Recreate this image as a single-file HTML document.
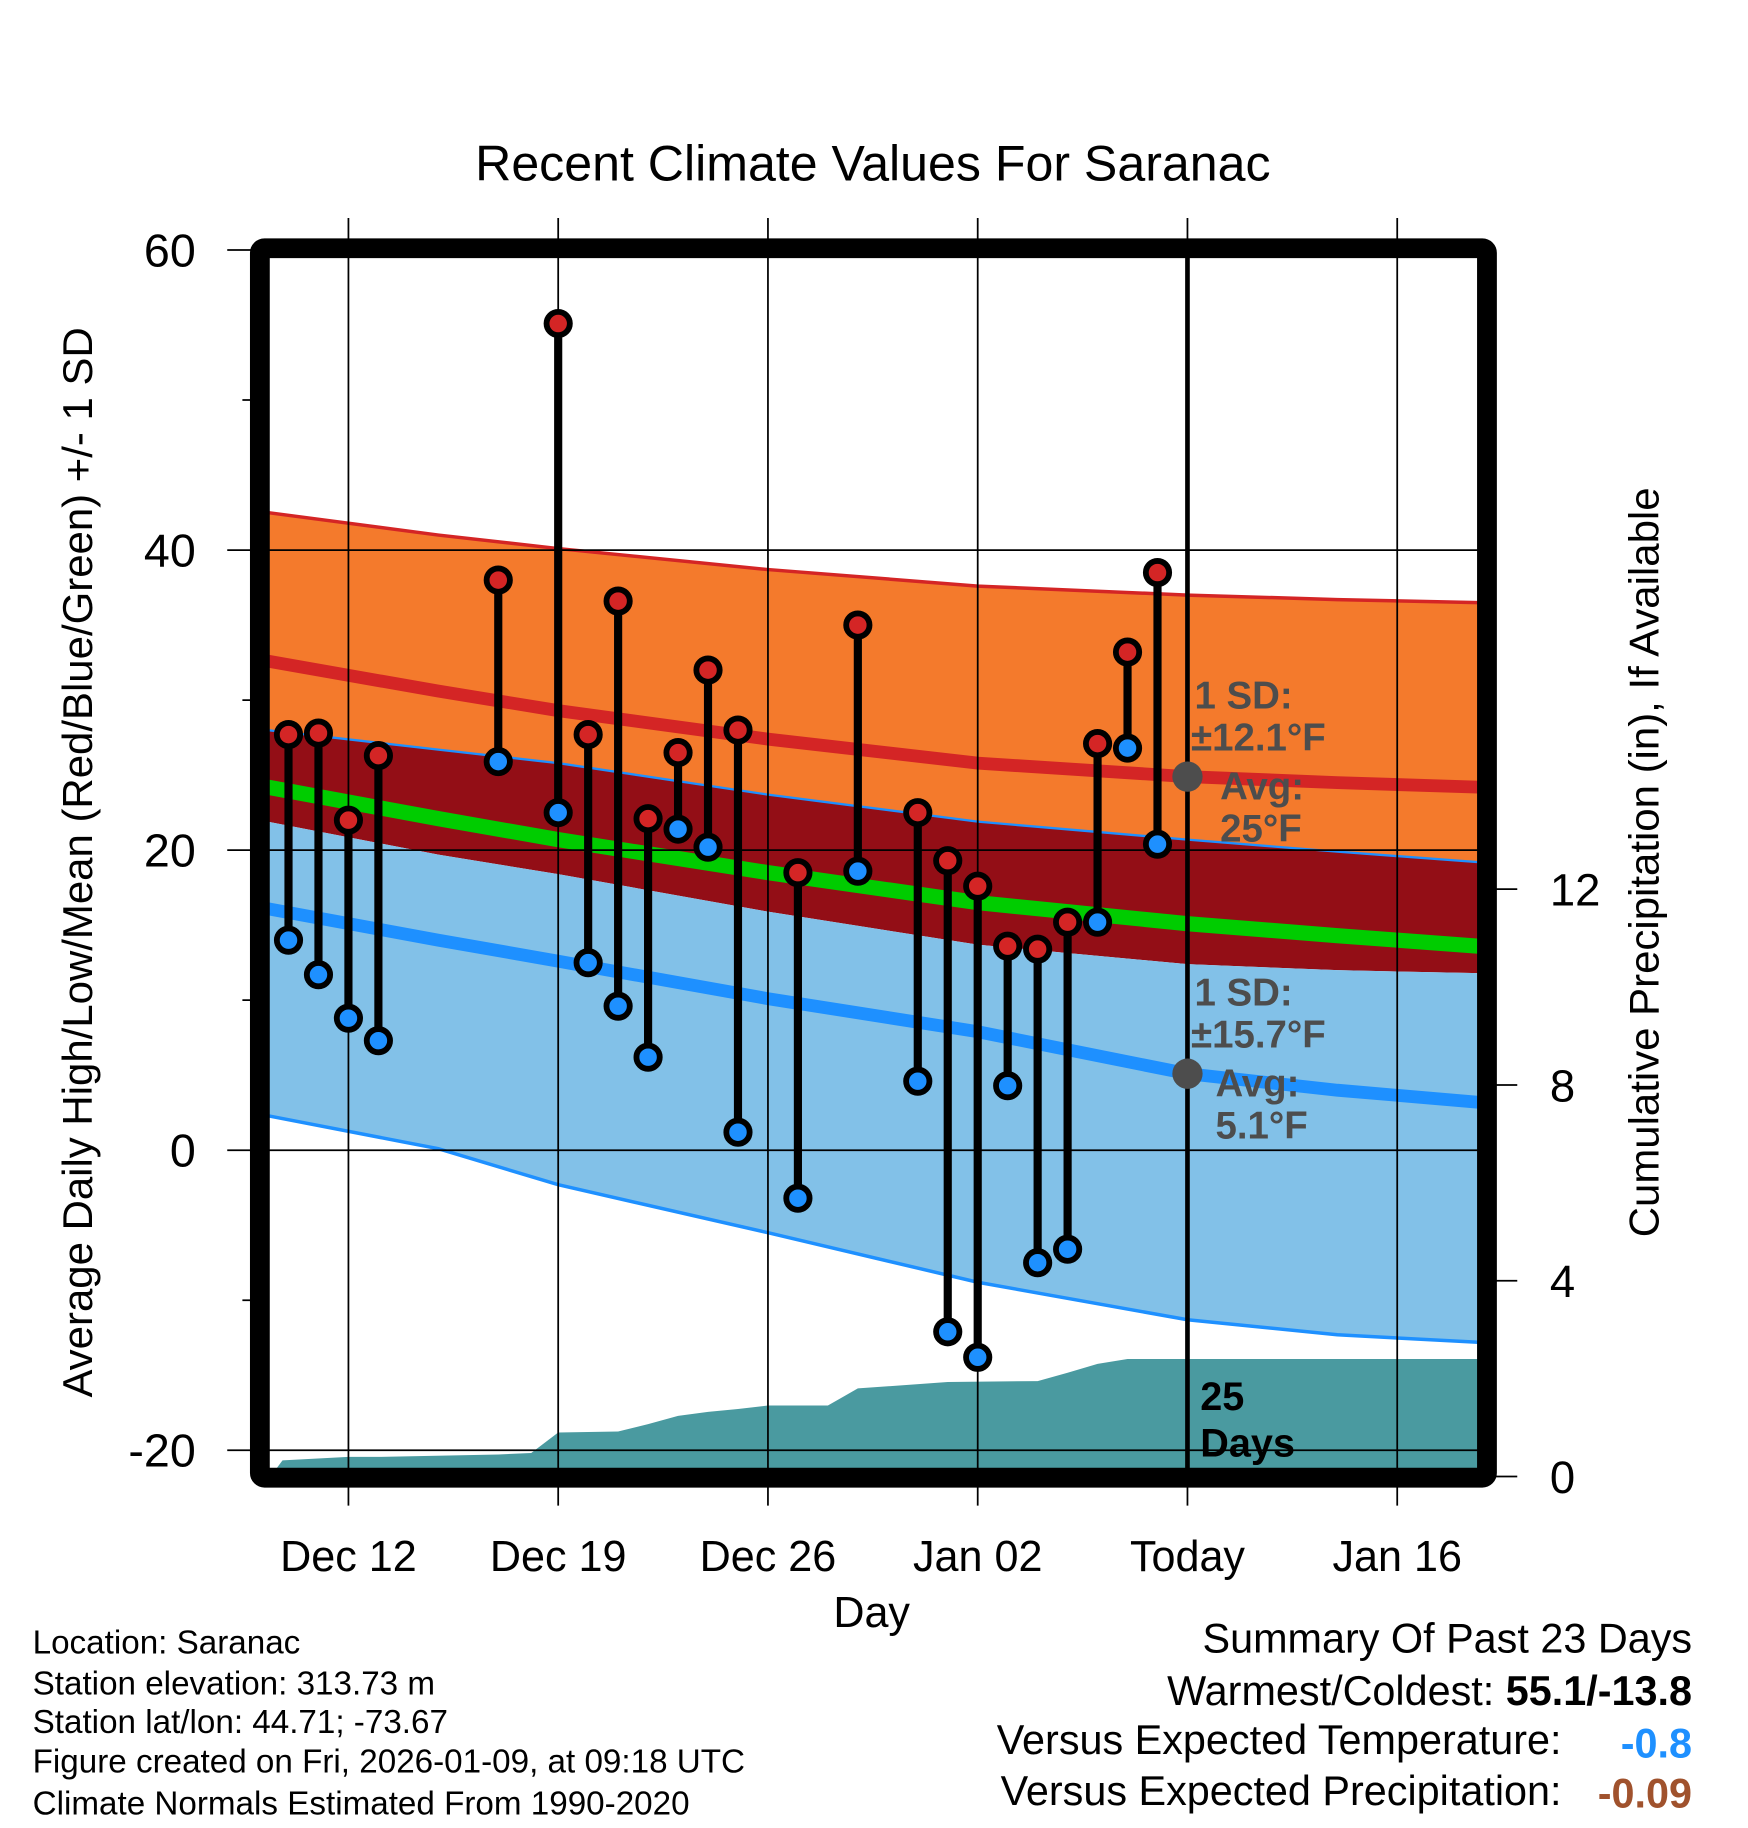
<!DOCTYPE html>
<html><head><meta charset="utf-8"><style>
html,body{margin:0;padding:0;background:#fff}
svg{display:block}
text{font-family:"Liberation Sans",sans-serif}
</style></head><body>
<svg id="chart" width="1748" height="1828" viewBox="0 0 1500 1568.6" xmlns="http://www.w3.org/2000/svg">
<g id="g"></g>
</svg>
<script>
// ---- data ----
const dayLabels = ["Dec 12","Dec 19","Dec 26","Jan 02","Today","Jan 16"];
const dayLabelDays = [0,7,14,21,28,35];
const obsDays = [-2,-1,0,1,5,7,8,9,10,11,12,13,15,17,19,20,21,22,23,24,25,26,27];
const highs = [27.7,27.8,22.0,26.3,38.0,55.1,27.7,36.6,22.1,26.5,32.0,28.0,18.5,35.0,22.5,19.3,17.6,13.6,13.4,15.2,27.1,33.2,38.5];
const lows  = [14.0,11.7,8.8,7.3,25.9,22.5,12.5,9.6,6.2,21.4,20.2,1.2,-3.2,18.6,4.6,-12.1,-13.8,4.3,-7.5,-6.6,15.2,26.8,20.4];
const normDays = [-2.7,3,7,14,21,28,33,37.7];
const highPlusSD = [42.5,41.0,40.1,38.7,37.6,37.0,36.7,36.5];
const avgHigh    = [32.6,30.6,29.3,27.4,25.8,24.9,24.5,24.2];
const highMinusSD= [28.0,26.7,25.8,23.7,21.9,20.7,19.9,19.2];
const avgMean    = [24.2,22.1,20.7,18.5,16.5,15.1,14.3,13.6];
const lowPlusSD  = [21.9,19.7,18.4,15.9,13.7,12.4,12.0,11.8];
const avgLow     = [16.1,14.0,12.6,10.1,7.9,5.1,4.0,3.2];
const lowMinusSD = [2.3,0.1,-2.3,-5.5,-8.8,-11.3,-12.3,-12.8];
const precipDays = [-2.6,-2.2,0,1,5,6.1,7,9,10,11,12,13,14,16,17,20,23,24,25,26,37.7];
const precipCum  = [0,0.33,0.4,0.4,0.45,0.48,0.9,0.92,1.07,1.24,1.32,1.38,1.45,1.45,1.8,1.93,1.95,2.12,2.3,2.4,2.4];
const tempTicks = [60,40,20,0,-20];
const tempMinor = [50,30,10,-10];
const precipTicks = [0,4,8,12];

// ---- axes ----
const X = d => 299 + d*25.714;
const Y = v => 987 - 12.875*v;
const P = v => 1267 - 42*v;
const NS="http://www.w3.org/2000/svg";
const g=document.getElementById('g');
function el(tag,attrs,parent){const e=document.createElementNS(NS,tag);for(const k in attrs)e.setAttribute(k,attrs[k]);(parent||g).appendChild(e);return e;}
function band(top,bot,fill,name){
  let d='M'+normDays.map((t,i)=>X(t)+','+Y(top[i])).join(' L');
  d+=' L'+normDays.slice().reverse().map((t,i)=>X(t)+','+Y(bot[bot.length-1-i])).join(' L')+'Z';
  const p=el('path',{d:d,fill:fill});
  
  
}
function line(arr,color,w,name){
  const p=el('path',{d:'M'+normDays.map((t,i)=>X(t)+','+Y(arr[i])).join(' L'),stroke:color,'stroke-width':w,fill:'none'});
  
  
}
band(highPlusSD,highMinusSD,'#f47a2c','high-sd-band');
band(highMinusSD,lowPlusSD,'#930e16','overlap-band');
band(lowPlusSD,lowMinusSD,'#82c1e8','low-sd-band');
line(highPlusSD,'#d42525',3,'high-plus-sd-line');
line(avgHigh,'#d42525',11,'avg-high-line');
line(highMinusSD,'#1e90ff',2,'high-minus-sd-line');
line(avgMean,'#00cc00',13,'avg-mean-line');
line(avgLow,'#1e90ff',11,'avg-low-line');
line(lowMinusSD,'#1e90ff',3,'low-minus-sd-line');
// precip
{
  let d='M'+X(precipDays[0])+','+P(0);
  precipDays.forEach((t,i)=>{d+=' L'+X(t)+','+P(precipCum[i]);});
  d+=' L'+X(precipDays[precipDays.length-1])+','+P(0)+'Z';
  const p=el('path',{d:d,fill:'#4a9aa0'});
  
  
}
// grid
tempTicks.forEach(v=>{const l=el('line',{x1:195,x2:1268,y1:Y(v),y2:Y(v),stroke:'#000','stroke-width':1.5});
  
  });
tempMinor.forEach(v=>{const l=el('line',{x1:208,x2:222,y1:Y(v),y2:Y(v),stroke:'#000','stroke-width':1.5});
  
  });
dayLabelDays.forEach((d,i)=>{
  const l=el('line',{x1:X(d),x2:X(d),y1:187,y2:1292,stroke:'#000','stroke-width':1.5});
  
  
  const t=el('text',{x:X(d),y:1348,'text-anchor':'middle','font-size':37});
  t.textContent=dayLabels[i];
  
  
});
tempTicks.forEach(v=>{const t=el('text',{x:168,y:Y(v)+14,'text-anchor':'end','font-size':40});t.textContent=v;
  
  });
precipTicks.forEach(v=>{
  const l=el('line',{x1:1276,x2:1302,y1:P(v),y2:P(v),stroke:'#000','stroke-width':1.5});
  
  
  const t=el('text',{x:1330,y:P(v)+14,'font-size':39});t.textContent=v;
  
  
});
// today line
{const l=el('line',{x1:X(28),x2:X(28),y1:213,y2:1268,stroke:'#000','stroke-width':4});
 
 }
// annotations
const ann=[["1 SD:",1025,608],["±12.1°F",1022,644],["Avg:",1047,686],["25°F",1047,722],["1 SD:",1025,863],["±15.7°F",1022,899],["Avg:",1043,941],["5.1°F",1043,977]];
ann.forEach(a=>{const t=el('text',{x:a[1],y:a[2],'font-size':33,'font-weight':'bold',fill:'#4d4d4d'});t.textContent=a[0];
  
  });
[[Y(24.9)],[Y(5.1)]].forEach(a=>{const c=el('circle',{cx:X(28),cy:a[0],r:13,fill:'#4d4d4d'});
  
  });
// observations
obsDays.forEach((d,i)=>{
  const l=el('line',{x1:X(d),x2:X(d),y1:Y(highs[i]),y2:Y(lows[i]),stroke:'#000','stroke-width':7});
  
  
  const h=el('circle',{cx:X(d),cy:Y(highs[i]),r:10,fill:'#d42525',stroke:'#000','stroke-width':5});
  
  
  const lo=el('circle',{cx:X(d),cy:Y(lows[i]),r:10,fill:'#1e90ff',stroke:'#000','stroke-width':5});
  
  
});
{const t=el('text',{x:1030,y:1210,'font-size':34,'font-weight':'bold'});t.textContent='25';
 
 
 const t2=el('text',{x:1030,y:1250,'font-size':34,'font-weight':'bold'});t2.textContent='Days';
 
 }
// frame
{const r=el('rect',{x:223,y:213,width:1053,height:1055,fill:'none',stroke:'#000','stroke-width':17,rx:4,'stroke-linejoin':'round'});
 
 }
</script>
<svg style="position:absolute;left:0;top:0" width="1748" height="1828" viewBox="0 0 1500 1568.6" xmlns="http://www.w3.org/2000/svg">
<text x="749" y="155" text-anchor="middle" font-size="43">Recent Climate Values For Saranac</text>
<text transform="translate(79,740) rotate(-90)" text-anchor="middle" font-size="36">Average Daily High/Low/Mean (Red/Blue/Green) +/- 1 SD</text>
<text transform="translate(1423,740) rotate(-90)" text-anchor="middle" font-size="36">Cumulative Precipitation (in), If Available</text>
<text x="748" y="1396" text-anchor="middle" font-size="37">Day</text>
<g font-size="28.5">
<text x="28" y="1419">Location: Saranac</text>
<text x="28" y="1454">Station elevation: 313.73 m</text>
<text x="28" y="1487">Station lat/lon: 44.71; -73.67</text>
<text x="28" y="1521">Figure created on Fri, 2026-01-09, at 09:18 UTC</text>
<text x="28" y="1557">Climate Normals Estimated From 1990-2020</text>
</g>
<g font-size="35.5">
<text x="1452" y="1418" text-anchor="end">Summary Of Past 23 Days</text>
<text x="1452" y="1463" text-anchor="end">Warmest/Coldest: <tspan font-weight="bold">55.1/-13.8</tspan></text>
<text x="1340" y="1505" text-anchor="end">Versus Expected Temperature:</text>
<text x="1452" y="1508" text-anchor="end" font-weight="bold" fill="#1e90ff">-0.8</text>
<text x="1340" y="1549" text-anchor="end">Versus Expected Precipitation:</text>
<text x="1452" y="1551" text-anchor="end" font-weight="bold" fill="#a0522d">-0.09</text>
</g>
</svg>
</body></html>
